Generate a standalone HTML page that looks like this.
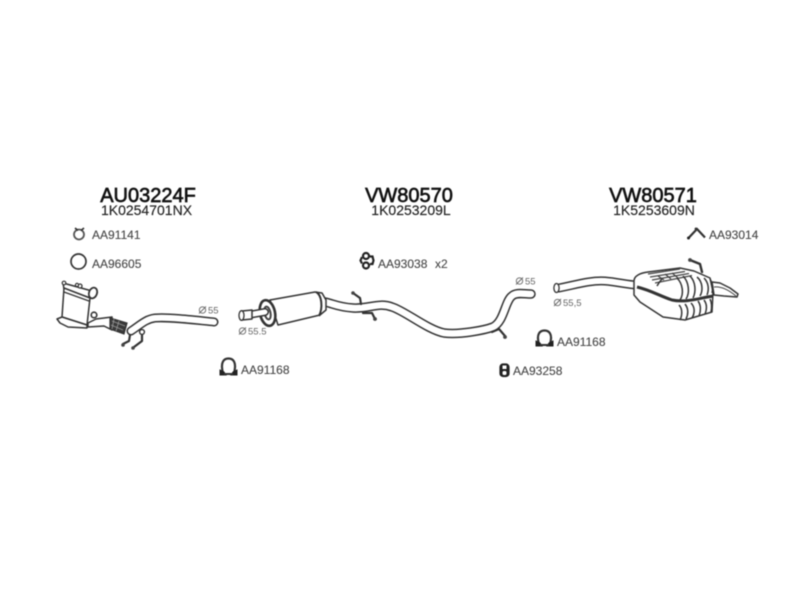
<!DOCTYPE html>
<html><head><meta charset="utf-8"><style>
html,body{margin:0;padding:0;background:#fff;width:800px;height:600px;overflow:hidden}
svg{display:block;filter:blur(0.55px)}
text{font-family:"Liberation Sans",sans-serif}
.t{font-size:20px;fill:#111;stroke:#111;stroke-width:.65;text-anchor:middle}
.s{font-size:14px;fill:#222;stroke:#222;stroke-width:.15;text-anchor:middle}
.l{font-size:12px;fill:#444;stroke:#444;stroke-width:.1}
.d{font-size:9.500px;fill:#666}
.o{fill:none;stroke:#333;stroke-linecap:round;stroke-linejoin:round}
.i{fill:none;stroke:#fff;stroke-linecap:round;stroke-linejoin:round}
.b{fill:#fff;stroke:#333;stroke-width:1.500;stroke-linejoin:round}
.dm{fill:none;stroke:#666;stroke-width:.9}
</style></head><body>
<svg width="800" height="600" viewBox="0 0 800 600" xmlns="http://www.w3.org/2000/svg">
<text class="t" x="148" y="202">AU03224F</text>
<text class="s" x="146.500" y="215">1K0254701NX</text>
<text class="t" x="409" y="202">VW80570</text>
<text class="s" x="411" y="215">1K0253209L</text>
<text class="t" x="653" y="202">VW80571</text>
<text class="s" x="654" y="215">1K5253609N</text>

<text class="l" x="92" y="239">AA91141</text>
<text class="l" x="92" y="268">AA96605</text>
<text class="l" x="241" y="374">AA91168</text>
<text class="l" x="378" y="268">AA93038</text>
<text class="l" x="435" y="268">x2</text>
<text class="l" x="513" y="375">AA93258</text>
<text class="l" x="557" y="346">AA91168</text>
<text class="l" x="709" y="239">AA93014</text>

<circle class="dm" cx="202.500" cy="310" r="3.200"/><path class="dm" d="M199 313.500L206 306.500"/>
<text class="d" x="208" y="313.500">55</text>
<circle class="dm" cx="242.500" cy="331" r="3.200"/><path class="dm" d="M239 334.500L246 327.500"/>
<text class="d" x="248" y="334.500">55.5</text>
<circle class="dm" cx="519.500" cy="281" r="3.200"/><path class="dm" d="M516 284.500L523 277.500"/>
<text class="d" x="525" y="284.500">55</text>
<circle class="dm" cx="557.500" cy="302.500" r="3.200"/><path class="dm" d="M554 306L561 299"/>
<text class="d" x="563" y="306">55,5</text>

<!-- small icons -->
<circle cx="79" cy="234.500" r="5" fill="none" stroke="#555" stroke-width="1.800"/>
<path d="M75 228l3 2.500M84 228l-3 2.500" stroke="#333" stroke-width="1.700"/>
<circle cx="78.500" cy="261.500" r="7.500" fill="none" stroke="#333" stroke-width="1.700"/>

<path d="M223 373C220 362 224 358.500 228.500 358.500C233 358.500 237 362 234 373" fill="none" stroke="#333" stroke-width="2.200"/>
<path d="M220 375V370L224 372L226 375ZM237 375V370L233 372L231 375Z" fill="#222" stroke="#222" stroke-width="1"/>
<path d="M224 374h9" stroke="#333" stroke-width="2"/>

<path d="M539 344C536 334 540 330.500 544.500 330.500C549 330.500 553 334 550 344" fill="none" stroke="#333" stroke-width="2.200"/>
<path d="M536 346V341L540 343L542 346ZM553 346V341L549 343L547 346Z" fill="#222" stroke="#222" stroke-width="1"/>
<path d="M540 345h9" stroke="#333" stroke-width="2"/>

<g fill="none" stroke="#222" stroke-width="2.200">
<circle cx="366" cy="256" r="3"/><circle cx="366" cy="265.500" r="3"/>
<path d="M362 257l-1.500 3.500 1.500 3M370 256.500h2.500l1 4-1 3.500h-2.500"/>
</g>
<rect x="500" y="364" width="9" height="12.500" rx="3" fill="#222" stroke="#222" stroke-width="1.200"/>
<rect x="502.500" y="365.500" width="4" height="3.500" fill="#fff"/>
<rect x="502.500" y="371" width="4" height="4" rx="1.500" fill="#fff"/>
<path d="M689 237.500L697 229L705 237.500" fill="none" stroke="#333" stroke-width="2.200"/>
<path d="M695 228l2 2" stroke="#333" stroke-width="2"/>
<circle cx="688.500" cy="238" r="1.500" fill="#222"/>

<!-- left catalyst assembly -->
<path class="o" stroke-width="9" d="M131 331C140 325 146 319 155 318C170 317 195 320 214 322"/>
<path class="i" stroke-width="6" d="M131 331C140 325 146 319 155 318C170 317 195 320 214 322"/>
<path class="b" d="M63 283L92 291L90 298L64 289Z"/>
<path class="b" d="M64 288L90 298L87 325L62 317Z"/>
<path class="o" stroke-width="1.200" d="M64 292L89 301"/>
<path class="b" d="M62 317L57 319L60 323L68 327L87 328L87 325Z"/>
<ellipse cx="93" cy="293" rx="4" ry="5.500" fill="#fff" stroke="#333" stroke-width="1.800" transform="rotate(20 93 293)"/>
<circle cx="80" cy="286" r="2" fill="#fff" stroke="#333" stroke-width="1.300"/>
<circle cx="77" cy="285" r="1.600" fill="#fff" stroke="#333" stroke-width="1.200"/>
<circle cx="64" cy="283" r="1.800" fill="#fff" stroke="#333" stroke-width="1.200"/>
<circle cx="94" cy="315" r="2.800" fill="#fff" stroke="#333" stroke-width="1.600"/>
<path class="b" d="M88 323L96 319L112 317L112 330L104 326L88 327Z"/>
<path d="M110 318L127 323L124 334L110 329Z" fill="#3a3a3a" stroke="#333" stroke-width="1.200"/>
<path d="M112 321L125 326M111 325L123 330M114 319L112 329M119 321L116 331" stroke="#999" stroke-width=".8"/>
<path class="o" stroke-width="2.200" d="M130 335L129 341L123 344M142 333L142 341L134 347"/>
<circle cx="142" cy="332" r="2.400" fill="#fff" stroke="#333" stroke-width="1.400"/>
<circle cx="123" cy="345" r="1.800" fill="#444"/>
<circle cx="133" cy="348" r="1.800" fill="#444"/>

<!-- centre silencer -->
<path class="o" stroke-width="9.500" d="M325 302C334 304 338 307 353 308C370 309 378 302 392 307C405 311 428 330 444 333C460 335 485 330 493 327C504 322 505 301 512 296C516 292 524 294 531 294"/>
<path class="i" stroke-width="6.500" d="M325 302C334 304 338 307 353 308C370 309 378 302 392 307C405 311 428 330 444 333C460 335 485 330 493 327C504 322 505 301 512 296C516 292 524 294 531 294"/>
<path class="b" d="M270 300L315 292L322 293L326 300L326 310L320 315L278 325Z"/>
<path d="M316 292C322 295 323 308 319 316" fill="none" stroke="#333" stroke-width="2"/>
<ellipse cx="267.500" cy="313" rx="7.500" ry="13" fill="#fff" stroke="#333" stroke-width="2.600" transform="rotate(-12 267.500 313)"/>
<ellipse cx="267.500" cy="313" rx="3" ry="6.500" fill="#fff" stroke="#444" stroke-width="2" transform="rotate(-12 267.500 313)"/>
<path class="o" stroke-width="8" d="M248 315L265 312"/>
<path class="i" stroke-width="5" d="M248 315L265 312"/>
<path class="b" d="M242 311L252 310V319L242 320Z"/>
<ellipse cx="241.500" cy="315.500" rx="2.500" ry="4.800" fill="#fff" stroke="#333" stroke-width="1.300"/>
<path class="o" stroke-width="2.200" d="M353 293L360 298L361 304M363 313L372 313L375 319"/>
<circle cx="353" cy="293" r="1.800" fill="#444"/>
<circle cx="375" cy="319" r="1.900" fill="#444"/>
<path class="o" stroke-width="2.200" d="M492 332L499 329L505 336"/>
<circle cx="505" cy="337" r="1.900" fill="#444"/>

<!-- right rear silencer -->
<path class="o" stroke-width="9" d="M559 288C575 285 590 280 605 281C618 282 628 285 637 285"/>
<path class="i" stroke-width="6" d="M559 288C575 285 590 280 605 281C618 282 628 285 637 285"/>
<ellipse cx="556.500" cy="288" rx="2.600" ry="4.500" fill="#fff" stroke="#333" stroke-width="1.300"/>
<path class="b" d="M712 282L720 283L730 288L738 294L737 297L724 296L714 295Z"/>
<path d="M714 287C722 286 730 291 736 296" fill="none" stroke="#444" stroke-width="1"/>
<path class="b" d="M634 281C634 276 640 273 648 272L680 268L694 271L710 278L713 292L712 312L685 320L663 317L640 302L634 295Z"/>
<!-- top hatch -->
<g stroke="#444" stroke-width="1.200" fill="none">
<path d="M648 274L680 269M650 277L685 271.500M652 280L689 273.500M655 283L692 275.500"/>
<path d="M658 276L664 280M665 274L671 279M672 273L678 278"/>
</g>
<!-- upper ribs -->
<g stroke="#333" stroke-width="1.500" fill="none">
<path d="M677 278C683 284 684 294 680 300"/>
<path d="M683 276C689 282 690 293 686 299"/>
<path d="M690 276C696 282 696 292 693 298"/>
<path d="M697 277C703 282 703 291 700 296"/>
<path d="M704 278C709 283 709 290 707 295"/>
<path d="M710 279C713 284 713 290 712 293"/>
<path d="M657 286C659 283 660 281 662 279"/>
</g>
<!-- lower ribs -->
<g stroke="#333" stroke-width="1.500" fill="none">
<path d="M679 305C683 309 682 316 680 320"/>
<path d="M685 304C689 309 688 315 686 319"/>
<path d="M691 303C695 307 695 313 692 318"/>
<path d="M698 301C701 305 701 311 699 316"/>
<path d="M704 300C707 304 707 309 705 314"/>
<path d="M710 299C712 303 712 307 711 312"/>
</g>
<path d="M637 287C650 290 660 296 672 300C686 303 700 298 713 296" fill="none" stroke="#333" stroke-width="3"/>
<path class="o" stroke-width="2.400" d="M690 260L700 264L702 272"/>
<circle cx="690" cy="260" r="1.900" fill="#444"/>
</svg>
</body></html>
